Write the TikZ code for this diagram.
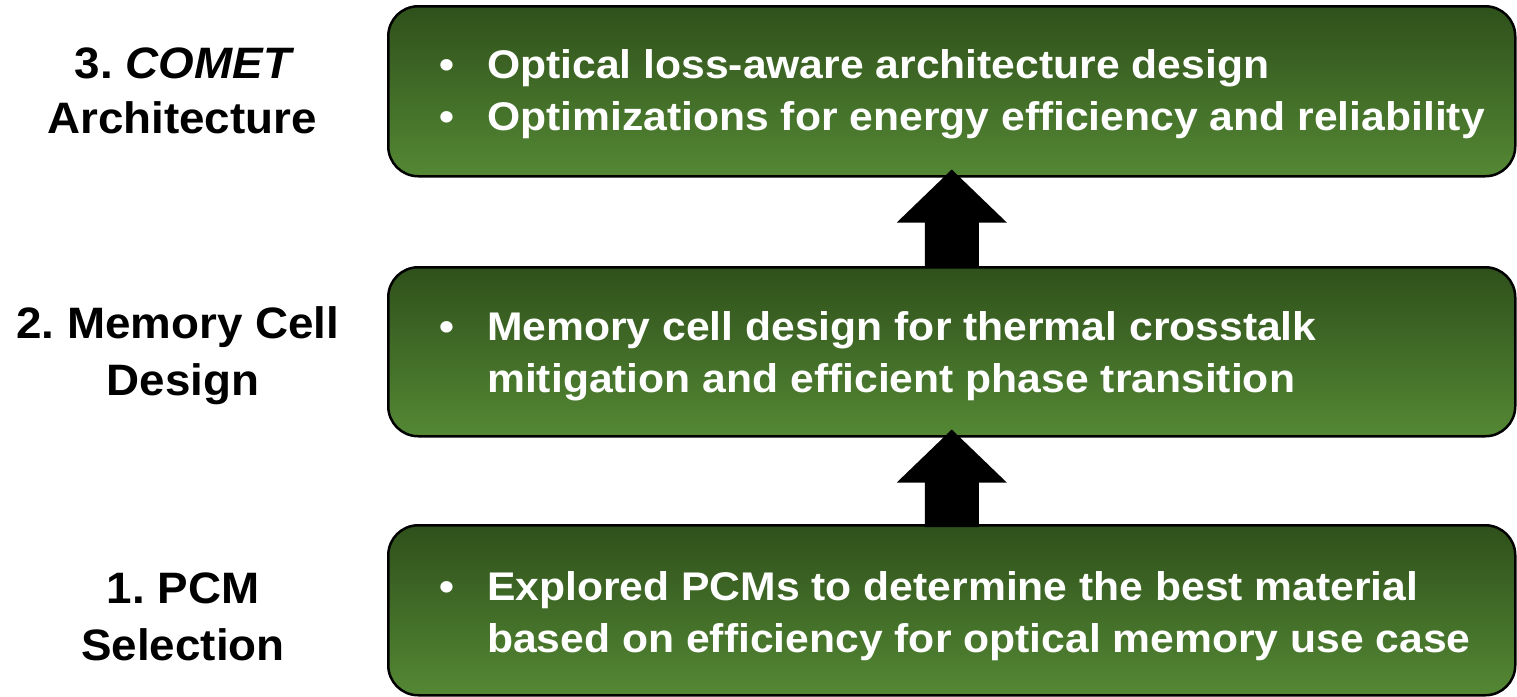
\documentclass[tikz,border=0pt]{standalone}
\usepackage{fontspec}
\setmainfont{Liberation Sans}
\newfontfamily\boxfont[FakeStretch=1.066]{Liberation Sans}
\newfontfamily\stagefont[FakeStretch=1.04]{Liberation Sans}
\usetikzlibrary{calc}
\frenchspacing
\definecolor{stagetop}{RGB}{47,80,27}
\definecolor{stagebot}{RGB}{84,136,52}
\tikzset{
  stagebox/.style={draw=black, line width=2.5pt, rounded corners=30pt,
    top color=stagetop, bottom color=stagebot, minimum width=1127pt,
    inner sep=0pt, anchor=north west},
  bodytext/.style={text=white, font=\boxfont\fontsize{40}{48}\selectfont\bfseries,
    inner sep=0pt, anchor=base west},
  bullettext/.style={text=white, font=\boxfont\fontsize{40}{48}\selectfont\bfseries,
    inner sep=0pt, anchor=base},
  labeltext/.style={text=black, font=\stagefont\fontsize{44}{52}\selectfont\bfseries,
    inner sep=0pt, anchor=base},
  uparrow/.style={fill=black}
}
\begin{document}
\begin{tikzpicture}[x=1pt,y=-1pt]
\useasboundingbox (0,0) rectangle (1517,696);

% stage boxes
\node[stagebox, minimum height=170pt] (b3) at (387,5) {};
\node[stagebox, minimum height=169pt] (b2) at (387,266) {};
\node[stagebox, minimum height=170pt] (b1) at (387,524) {};

% block arrows between stages
\fill[uparrow] let \p1=(b3.south), \p2=(b2.north) in
  (\x1,\y1+8pt) -- (\x1+55pt,\y1-45pt) -- (\x1+27pt,\y1-45pt) --
  (\x1+27pt,\y2-1pt) -- (\x1-27pt,\y2-1pt) -- (\x1-27pt,\y1-45pt) --
  (\x1-55pt,\y1-45pt) -- cycle;
\fill[uparrow] let \p1=(b2.south), \p2=(b1.north) in
  (\x1,\y1+8pt) -- (\x1+55pt,\y1-45pt) -- (\x1+27pt,\y1-45pt) --
  (\x1+27pt,\y2-3pt) -- (\x1-27pt,\y2-3pt) -- (\x1-27pt,\y1-45pt) --
  (\x1-55pt,\y1-45pt) -- cycle;

% stage 3 contents
\node[bullettext] (d3a) at (447,78) {•};
\node[bodytext] (t3a) at (487,78) {Optical loss-aware architecture design};
\node[bullettext] (d3b) at (447,130) {•};
\node[bodytext] (t3b) at (487,130) {Optimizations for energy efficiency and reliability};

% stage 2 contents
\node[bullettext] (d2) at (447,340) {•};
\node[bodytext] (t2a) at (487,340) {Memory cell design for thermal crosstalk};
\node[bodytext] (t2b) at (487,392) {mitigation and efficient phase transition};

% stage 1 contents
\node[bullettext] (d1) at (447,600) {•};
\node[bodytext] (t1a) at (487,600) {Explored PCMs to determine the best material};
\node[bodytext] (t1b) at (487,652) {based on efficiency for optical memory use case};

% stage labels
\node[labeltext] (l3a) at (183,78) {3. \itshape COMET};
\node[labeltext] (l3b) at (182,133) {Architecture};
\node[labeltext] (l2a) at (178,338) {2. Memory Cell};
\node[labeltext] (l2b) at (183,395) {Design};
\node[labeltext] (l1a) at (183,603) {1. PCM};
\node[labeltext] (l1b) at (183,660) {Selection};
\end{tikzpicture}
\end{document}
